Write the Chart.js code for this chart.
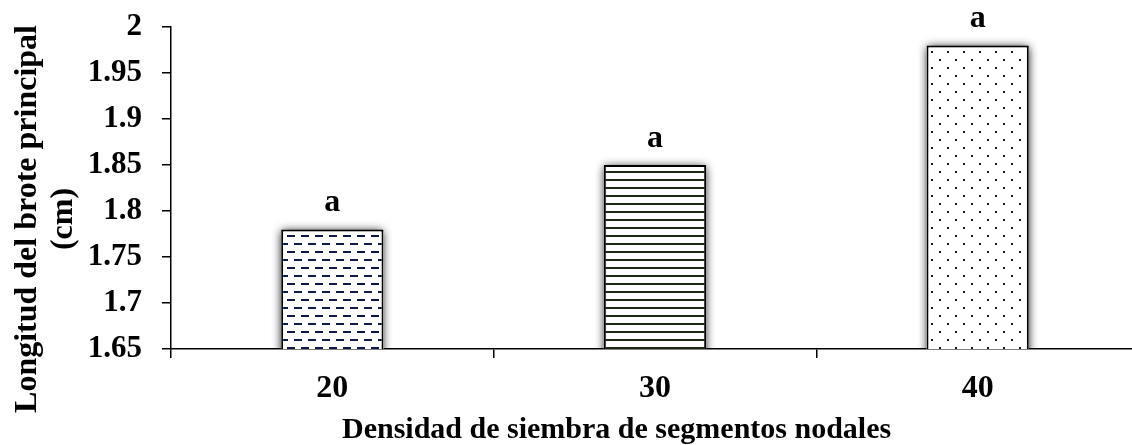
<!DOCTYPE html>
<html>
<head>
<meta charset="utf-8">
<script src="https://cdn.jsdelivr.net/npm/chart.js@4"></script>
<style>
  html, body { margin: 0; padding: 0; background: #fff; overflow: hidden; }
  #wrap { width: 1140px; height: 445px; }
</style>
</head>
<body>
<div id="wrap"><canvas id="chart" width="1140" height="445"></canvas></div>
<script>
const categories = ['20', '30', '40'];
const lengths = [1.78, 1.85, 1.98];
const letters = ['a', 'a', 'a'];
const yMin = 1.65;
const yMax = 2;
const yStep = 0.05;
const xTitle = 'Densidad de siembra de segmentos nodales';
const yTitle = ['Longitud del brote principal', '(cm)'];

const FONT = '"Liberation Serif", "Times New Roman", serif';

// fill patterns for the bars
function dashPattern() {
    const c = document.createElement('canvas');
    c.width = 14; c.height = 16;
    const g = c.getContext('2d');
    g.fillStyle = '#fff'; g.fillRect(0, 0, 14, 16);
    g.fillStyle = '#0b1a48';
    g.fillRect(0, 3, 8, 2);
    g.fillRect(7, 11, 7, 2);
    g.fillRect(0, 11, 1, 2);
    return g.createPattern(c, 'repeat');
}
function linePattern() {
    const c = document.createElement('canvas');
    c.width = 8; c.height = 8;
    const g = c.getContext('2d');
    g.fillStyle = '#fff'; g.fillRect(0, 0, 8, 8);
    g.fillStyle = '#1b2a12';
    g.fillRect(0, 3, 8, 2);
    return g.createPattern(c, 'repeat');
}
function dotPattern() {
    const c = document.createElement('canvas');
    c.width = 16; c.height = 16;
    const g = c.getContext('2d');
    g.fillStyle = '#fff'; g.fillRect(0, 0, 16, 16);
    g.fillStyle = '#2a1405';
    g.fillRect(3, 3, 2, 2);
    g.fillRect(11, 11, 2, 2);
    return g.createPattern(c, 'repeat');
}

// soft grey shadow behind each bar (the bar element clips its own shadow)
const shadowPlugin = {
    id: 'barShadow',
    beforeDatasetsDraw(chart) {
        const ctx = chart.ctx;
        const a = chart.chartArea;
        const meta = chart.getDatasetMeta(0);
        ctx.save();
        ctx.beginPath();
        ctx.rect(a.left, a.top - 10, a.right - a.left, a.bottom - a.top + 10);
        ctx.clip();
        ctx.shadowColor = 'rgba(0,0,0,0.95)';
        ctx.shadowBlur = 9;
        ctx.fillStyle = '#fff';
        meta.data.forEach(bar => {
            const w = bar.width;
            ctx.fillRect(bar.x - w / 2, bar.y + 2, w, bar.base - bar.y + 10);
        });
        ctx.restore();
    }
};

const labelPlugin = {
    id: 'labels',
    afterDraw(chart) {
        const ctx = chart.ctx;
        const meta = chart.getDatasetMeta(0);
        ctx.save();
        ctx.fillStyle = '#000';
        ctx.font = 'bold 32px ' + FONT;
        ctx.textAlign = 'center';
        ctx.textBaseline = 'alphabetic';
        meta.data.forEach((bar, i) => {
            ctx.fillText(letters[i], bar.x, bar.y - 18);
        });

        // axis titles
        ctx.font = 'bold 30px ' + FONT;
        ctx.textAlign = 'left';
        ctx.fillText(xTitle, 342, 438);

        ctx.textAlign = 'center';
        ctx.font = 'bold 32px ' + FONT;
        ctx.translate(0, 219);
        ctx.rotate(-Math.PI / 2);
        ctx.fillText(yTitle[0], 0, 36);
        ctx.fillText(yTitle[1], 0, 72);
        ctx.restore();
    }
};

new Chart(document.getElementById('chart'), {
    type: 'bar',
    data: {
        labels: categories,
        datasets: [{
            data: lengths,
            backgroundColor: [dashPattern(), linePattern(), dotPattern()],
            borderColor: '#000',
            borderWidth: 2,
            borderSkipped: false,
            barPercentage: 1,
            categoryPercentage: 0.317
        }]
    },
    options: {
        responsive: false,
        animation: false,
        layout: { padding: { top: 27, right: 1, left: 0, bottom: 0 } },
        plugins: {
            legend: { display: false },
            tooltip: { enabled: false }
        },
        scales: {
            x: {
                afterFit: s => { s.height = 96; s.paddingLeft = 0; s.paddingRight = 0; },
                grid: {
                    offset: true,
                    drawOnChartArea: false,
                    tickLength: 9,
                    color: '#000',
                    lineWidth: 1.5
                },
                border: { color: '#000', width: 1.5 },
                ticks: {
                    color: '#000',
                    padding: 12,
                    font: { family: FONT, size: 32, weight: 'bold' }
                }
            },
            y: {
                min: yMin,
                max: yMax,
                afterFit: s => { s.width = 171; s.paddingTop = 0; s.paddingBottom = 0; },
                afterBuildTicks: s => {
                    const t = [];
                    for (let v = yMin; v <= yMax + 1e-9; v += yStep) t.push({ value: Math.round(v * 100) / 100 });
                    s.ticks = t;
                },
                grid: {
                    drawOnChartArea: false,
                    tickLength: 9,
                    color: '#000',
                    lineWidth: 1.5
                },
                border: { color: '#000', width: 1.5 },
                ticks: {
                    color: '#000',
                    padding: 20,
                    font: { family: FONT, size: 31, weight: 'bold' },
                    callback: v => String(Math.round(v * 100) / 100)
                }
            }
        }
    },
    plugins: [shadowPlugin, labelPlugin]
});
</script>
</body>
</html>
